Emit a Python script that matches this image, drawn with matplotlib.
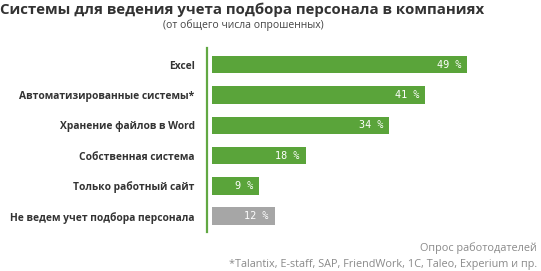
import matplotlib.pyplot as plt

# данные опроса
categories = ["Excel", "Автоматизированные системы*", "Хранение файлов в Word",
              "Собственная система", "Только работный сайт",
              "Не ведем учет подбора персонала"]
values = [49, 41, 34, 18, 9, 12]
colors = ["#5aa43a"] * 5 + ["#a6a6a6"]

title = "Системы для ведения учета подбора персонала в компаниях"
subtitle = "(от общего числа опрошенных)"
source = "Опрос работодателей"
footnote = "*Talantix, E-staff, SAP, FriendWork, 1C, Taleo, Experium и пр."

plt.rcParams['font.family'] = ['Open Sans', 'DejaVu Sans']

fig = plt.figure(figsize=(5.41, 2.71), dpi=100)
ax = fig.add_axes([207 / 541, 39 / 271, 334 / 541, 184 / 271])

y = range(len(values))
ax.barh(y, values, height=0.58, color=colors)
for i, v in enumerate(values):
    ax.text(v - 1.1, i, f"{v} %", ha="right", va="center", color="white",
            fontsize=7.3, family=["DejaVu Sans Mono"])

ax.set_xlim(-1, 63.3)
ax.set_ylim(5.52, -0.55)
ax.set_yticks(list(y))
ax.set_yticklabels(categories, fontsize=7.4, fontweight="bold", color="#333333")
ax.tick_params(axis="y", length=0, pad=9)
ax.set_xticks([])
for s in ["top", "right", "bottom"]:
    ax.spines[s].set_visible(False)
ax.spines["left"].set_color("#62a843")
ax.spines["left"].set_linewidth(1.6)

fig.text(0.0, 1 - 10 / 271, title, fontsize=10.8, fontweight="bold",
         color="#333333", va="center", ha="left")
fig.text(243 / 541, 1 - 25 / 271, subtitle, fontsize=7.5, color="#444444",
         va="center", ha="center")
fig.text(537 / 541, 1 - 248 / 271, source, fontsize=7.8, color="#8a8a8a",
         va="center", ha="right")
fig.text(537 / 541, 1 - 265 / 271, footnote, fontsize=7.8, color="#8a8a8a",
         va="center", ha="right")

fig.savefig("out.png", dpi=100)
